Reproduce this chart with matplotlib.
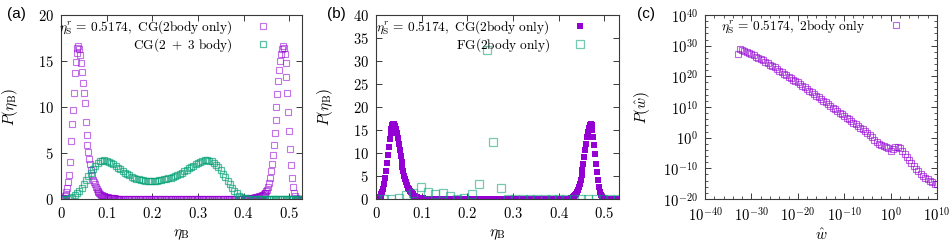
import numpy as np
import matplotlib
matplotlib.use("Agg")
import matplotlib.pyplot as plt
from matplotlib.ticker import FuncFormatter, FixedLocator

plt.rcParams['mathtext.fontset'] = 'cm'
plt.rcParams['font.family'] = ['DejaVu Serif']

# ---------------- data: panel (a) ----------------
# CG(2body only): bin centres on a 0.002 grid
a_cg2_left = [0.0, 0.02, 0.06, 0.15, 0.3, 0.45, 0.75, 1.2, 1.8, 2.6, 4.0, 6.3, 8.2, 9.7, 11.5,
              13.7, 14.9, 15.9, 16.4, 16.6, 16.3, 15.7, 14.8, 13.8, 12.6, 11.5, 10.4, 8.4, 7.0,
              5.9, 5.1, 4.4, 3.8, 3.2, 2.6, 2.1, 1.85, 1.6, 1.3, 1.1, 0.9, 0.78, 0.66, 0.56, 0.48,
              0.42, 0.37, 0.32, 0.27, 0.23, 0.2, 0.18, 0.16, 0.14, 0.12, 0.1, 0.09, 0.08, 0.07,
              0.06, 0.05, 0.05, 0.04, 0.03, 0.03, 0.02]                       # x = 0.000 .. 0.130
a_cg2_right = [0.02, 0.02, 0.03, 0.03, 0.04, 0.05, 0.06, 0.07, 0.08, 0.1, 0.11, 0.13, 0.15, 0.17,
               0.19, 0.22, 0.25, 0.28, 0.32, 0.36, 0.4, 0.45, 0.52, 0.6, 0.7, 0.85, 1.0, 1.3, 1.7,
               2.3, 3.0, 3.8, 4.8, 5.9, 7.2, 8.6, 10.0, 11.4, 12.8, 14.0, 15.0, 15.8, 16.3, 16.6,
               16.4, 15.8, 14.8, 13.3, 11.5, 9.5, 7.4, 5.4, 3.7, 2.3, 1.3, 0.65, 0.3, 0.12, 0.05,
               0.02]                                                            # x = 0.400 .. 0.518
# CG(2 + 3 body): bin centres on a 0.005 grid
a_cg23 = [0.0, 0.0, 0.02, 0.05, 0.12, 0.25, 0.42, 0.65, 0.92, 1.25, 1.62, 2.02, 2.45, 2.88, 3.28,
          3.62, 3.9, 4.08, 4.18, 4.2, 4.15, 4.05, 3.92, 3.76, 3.58, 3.4, 3.22, 3.04, 2.87, 2.71,
          2.56, 2.43, 2.32, 2.22, 2.14, 2.08, 2.03, 2.0, 1.98, 1.97, 1.97, 1.98, 2.0, 2.03, 2.07,
          2.12, 2.18, 2.25, 2.33, 2.42, 2.52, 2.63, 2.75, 2.88, 3.02, 3.17, 3.32, 3.48, 3.63,
          3.78, 3.92, 4.04, 4.13, 4.19, 4.2, 4.17, 4.08, 3.93, 3.72, 3.45, 3.13, 2.77, 2.38,
          1.98, 1.58, 1.21, 0.88, 0.6, 0.38, 0.22, 0.12, 0.06, 0.03, 0.01]     # x = 0.000 .. 0.415

# ---------------- data: panel (b) ----------------
b_cg2_left = [0.02, 0.08, 0.2, 0.4, 0.65, 1.0, 1.5, 2.2, 3.2, 4.5, 6.0, 7.8, 9.6, 11.4, 13.0,
              14.3, 15.3, 16.0, 16.3, 16.3, 15.9, 15.3, 14.4, 13.2, 11.9, 10.6, 9.3, 8.1, 7.0,
              6.0, 5.1, 4.3, 3.6, 3.0, 2.5, 2.1, 1.75, 1.45, 1.2, 1.0, 0.83, 0.69, 0.57, 0.47,
              0.39, 0.32, 0.26, 0.21, 0.17, 0.14, 0.11, 0.09, 0.07, 0.05, 0.04, 0.03, 0.02,
              0.015, 0.01, 0.0]                                                 # x = 0.002 .. 0.120
b_cg2_right = [0.03, 0.05, 0.08, 0.12, 0.18, 0.27, 0.4, 0.57, 0.8, 1.1, 1.5, 2.0, 2.6, 3.3, 4.2,
               5.2, 6.4, 7.7, 9.1, 10.6, 12.0, 13.4, 14.6, 15.5, 16.1, 16.3, 16.0, 15.0, 13.5,
               11.8, 9.8, 7.7, 5.8, 4.1, 2.7, 1.6, 0.9, 0.45, 0.2, 0.08, 0.03]  # x = 0.420 .. 0.500
b_fg2_x = [0.0015, 0.0175, 0.034, 0.050, 0.066, 0.082, 0.098, 0.113, 0.129, 0.146, 0.162,
           0.178, 0.193, 0.210, 0.225, 0.242, 0.257, 0.273, 0.289, 0.305, 0.321, 0.337, 0.353,
           0.369, 0.385, 0.401, 0.417, 0.433, 0.449, 0.465, 0.481, 0.497, 0.513, 0.529]
b_fg2_y = [0.0, 0.0, 0.1, 0.3, 0.8, 1.3, 2.7, 1.6, 1.0, 1.4, 0.7, 0.05, 0.3, 1.0, 3.2, 32.3,
           12.5, 2.5, 0.0, 0.0, 0.0, 0.0, 0.0, 0.0, 0.0, 0.0, 0.0, 0.0, 0.0, 0.0, 0.0, 0.0, 0.0, 0.0]

# ---------------- data: panel (c) ----------------
c_log_w = [-33.0, -32.5, -32.0, -31.5, -31.0, -30.5, -30.0, -29.5, -29.0, -28.5, -28.0, -27.5,
           -27.0, -26.5, -26.0, -25.5, -25.0, -24.5, -24.0, -23.5, -23.0, -22.5, -22.0, -21.5,
           -21.0, -20.5, -20.0, -19.5, -19.0, -18.5, -18.0, -17.5, -17.0, -16.5, -16.0, -15.5,
           -15.0, -14.5, -14.0, -13.5, -13.0, -12.5, -12.0, -11.5, -11.0, -10.5, -10.0, -9.5,
           -9.0, -8.5, -8.0, -7.5, -7.0, -6.5, -6.0, -5.5, -5.0, -4.5, -4.0, -3.5, -3.0, -2.5,
           -2.0, -1.5, -1.0, -0.5, 0.0, 0.5, 1.0, 1.5, 2.0, 2.5, 3.0, 3.5, 4.0, 4.5, 5.0, 5.5,
           6.0, 6.5, 7.0, 7.5, 8.0, 8.5, 9.0, 9.5, 10.0]
c_log_P = [27.4, 28.8, 28.6, 28.3, 28.0, 27.6, 27.2, 26.8, 26.4, 26.0, 25.7, 25.3, 24.8, 24.3,
           23.8, 23.4, 22.9, 22.4, 21.9, 21.4, 20.9, 20.4, 19.9, 19.4, 18.9, 18.5, 18.0, 17.5,
           16.9, 16.4, 15.9, 15.3, 14.8, 14.2, 13.7, 13.1, 12.6, 12.0, 11.5, 10.9, 10.4, 9.8,
           9.2, 8.7, 8.1, 7.6, 7.0, 6.5, 6.0, 5.4, 4.9, 4.3, 3.8, 3.2, 2.7, 2.1, 1.6, 1.0, 0.3,
           -0.6, -1.5, -2.0, -2.3, -2.6, -3.0, -3.4, -4.2, -3.6, -3.0, -2.9, -3.3, -4.2, -5.2,
           -6.2, -7.3, -8.3, -9.3, -10.2, -11.0, -11.7, -12.5, -13.0, -13.5, -14.0, -14.6,
           -15.0, -15.2]

label_a1 = r'$\eta_{\mathrm{S}}^{r}\,=\,0.5174,\ \mathrm{CG(2body\ only)}$'
label_a2 = r'$\mathrm{CG(2\ +\ 3\ body)}$'
label_b1 = r'$\eta_{\mathrm{S}}^{r}\,=\,0.5174,\ \mathrm{CG(2body\ only)}$'
label_b2 = r'$\mathrm{FG(2body\ only)}$'
label_c1 = r'$\eta_{\mathrm{S}}^{r}\,=\,0.5174,\ \mathrm{2body\ only}$'

# ---------------- assemble x grids (bin centres) ----------------
xa_left = np.round(np.arange(len(a_cg2_left)) * 0.002, 4)
xa_zero = np.round(np.arange(0.132, 0.399, 0.003), 4)
xa_right = np.round(0.400 + np.arange(len(a_cg2_right)) * 0.002, 4)
xa_tail = np.round(np.arange(0.520, 0.531, 0.002), 4)
xa_cg2 = np.concatenate([xa_left, xa_zero, xa_right, xa_tail])
ya_cg2 = np.concatenate([a_cg2_left, np.zeros(len(xa_zero)), a_cg2_right, np.zeros(len(xa_tail))])
xa_cg23 = np.round(np.arange(len(a_cg23)) * 0.005, 4)
xa_cg23_tail = np.round(np.arange(0.420, 0.531, 0.004), 4)
xa_23 = np.concatenate([xa_cg23, xa_cg23_tail])
ya_23 = np.concatenate([a_cg23, np.zeros(len(xa_cg23_tail))])

xb_left = np.round(0.002 + np.arange(len(b_cg2_left)) * 0.002, 4)
xb_zero = np.round(np.arange(0.122, 0.419, 0.002), 4)
xb_right = np.round(0.420 + np.arange(len(b_cg2_right)) * 0.002, 4)
xb_tail = np.round(np.arange(0.502, 0.531, 0.002), 4)
xb_cg2 = np.concatenate([[0.0], xb_left, xb_zero, xb_right, xb_tail])
yb_cg2 = np.concatenate([[0.0], b_cg2_left, np.zeros(len(xb_zero)), b_cg2_right, np.zeros(len(xb_tail))])

PURPLE = '#9400D3'
GREEN = '#009E73'
FRAME = '#3a3a3a'
FS = 10.5
LFS = 9.6

fig = plt.figure(figsize=(9.53, 2.5), dpi=100)
ax_a = fig.add_axes([0.064, 0.204, 0.2529, 0.736])
ax_b = fig.add_axes([0.3945, 0.204, 0.255, 0.736])
ax_c = fig.add_axes([0.7398, 0.204, 0.2434, 0.736])

def style(ax):
    for s in ax.spines.values():
        s.set_color(FRAME)
        s.set_linewidth(0.8)
    ax.tick_params(which='both', direction='in', top=True, right=True, color=FRAME,
                   labelsize=FS, pad=5)
    ax.tick_params(which='major', length=4, width=0.7)
    ax.tick_params(which='minor', length=2, width=0.6)

lin_fmt = FuncFormatter(lambda v, p: r'$%g$' % round(v, 3))
log_fmt = FuncFormatter(lambda v, p: r'$10^{%d}$' % int(round(np.log10(v))))

# ---- (a)
ax_a.plot(xa_cg2, ya_cg2, ls='none', marker='s', ms=3.8, mfc='none', mec=PURPLE, mew=0.8,
          alpha=0.55, label=label_a1)
ax_a.plot(xa_23, ya_23, ls='none', marker='s', ms=4.2, mfc='none', mec=GREEN, mew=0.9,
          alpha=0.65, label=label_a2)
ax_a.set_xlim(0, 0.528)
ax_a.set_ylim(0, 20)
ax_a.set_xticks([0, 0.1, 0.2, 0.3, 0.4, 0.5])
ax_a.set_yticks([0, 5, 10, 15, 20])
ax_a.xaxis.set_major_formatter(lin_fmt)
ax_a.yaxis.set_major_formatter(lin_fmt)
ax_a.set_xlabel(r'$\eta_{\mathrm{B}}$', fontsize=FS + 0.5)
ax_a.set_ylabel(r'$P(\eta_{\mathrm{B}})$', fontsize=FS + 0.5)
ax_a.xaxis.set_label_coords(0.5, -0.155)
ax_a.yaxis.set_label_coords(-0.17, 0.5)
style(ax_a)

# ---- (b)
ax_b.plot(xb_cg2, yb_cg2, ls='none', marker='s', ms=3.8, mfc=PURPLE, mec=PURPLE, mew=0,
          label=label_b1)
ax_b.plot(b_fg2_x, b_fg2_y, ls='none', marker='s', ms=5.5, mfc='none', mec=GREEN, mew=0.9,
          alpha=0.55, label=label_b2)
ax_b.set_xlim(0, 0.532)
ax_b.set_ylim(0, 40)
ax_b.set_xticks([0, 0.1, 0.2, 0.3, 0.4, 0.5])
ax_b.set_yticks([0, 5, 10, 15, 20, 25, 30, 35, 40])
ax_b.xaxis.set_major_formatter(lin_fmt)
ax_b.yaxis.set_major_formatter(lin_fmt)
ax_b.set_xlabel(r'$\eta_{\mathrm{B}}$', fontsize=FS + 0.5)
ax_b.set_ylabel(r'$P(\eta_{\mathrm{B}})$', fontsize=FS + 0.5)
ax_b.xaxis.set_label_coords(0.5, -0.155)
ax_b.yaxis.set_label_coords(-0.17, 0.5)
style(ax_b)

# ---- (c)
ax_c.plot(10.0 ** np.array(c_log_w), 10.0 ** np.array(c_log_P), ls='none', marker='s', ms=4,
          mfc='none', mec=PURPLE, mew=0.8, alpha=0.6, label=label_c1)
ax_c.set_xscale('log')
ax_c.set_yscale('log')
ax_c.set_xlim(1e-40, 1e10)
ax_c.set_ylim(1e-20, 1e40)
ax_c.xaxis.set_major_locator(FixedLocator([10.0 ** k for k in range(-40, 11, 10)]))
ax_c.xaxis.set_minor_locator(FixedLocator([10.0 ** k for k in range(-40, 11, 2)]))
ax_c.yaxis.set_major_locator(FixedLocator([10.0 ** k for k in range(-20, 41, 10)]))
ax_c.yaxis.set_minor_locator(FixedLocator([10.0 ** k for k in range(-20, 41, 2)]))
ax_c.xaxis.set_major_formatter(log_fmt)
ax_c.yaxis.set_major_formatter(log_fmt)
ax_c.xaxis.set_minor_formatter(FuncFormatter(lambda v, p: ''))
ax_c.yaxis.set_minor_formatter(FuncFormatter(lambda v, p: ''))
ax_c.set_xlabel(r'$\hat{w}$', fontsize=FS + 0.5)
ax_c.set_ylabel(r'$P(\hat{w})$', fontsize=FS + 0.5)
ax_c.xaxis.set_label_coords(0.5, -0.155)
ax_c.yaxis.set_label_coords(-0.23, 0.5)
style(ax_c)

leg_kw = dict(loc='upper right', markerfirst=False, frameon=False, fontsize=LFS,
              handlelength=1.8, handletextpad=1.4, borderpad=0, borderaxespad=0,
              labelspacing=0.0, numpoints=1)
ax_a.legend(bbox_to_anchor=(0.89, 0.98), **leg_kw)
ax_b.legend(bbox_to_anchor=(0.89, 0.98), **leg_kw)
leg_c = ax_c.legend(bbox_to_anchor=(0.875, 0.98), **leg_kw)

for x, t in [(16, '(a)'), (336, '(b)'), (646, '(c)')]:
    fig.text(x / 953, 1 - 14 / 250, t, ha='center', va='center', fontsize=11,
             family='Liberation Sans')

fig.savefig('out.png', dpi=100)
